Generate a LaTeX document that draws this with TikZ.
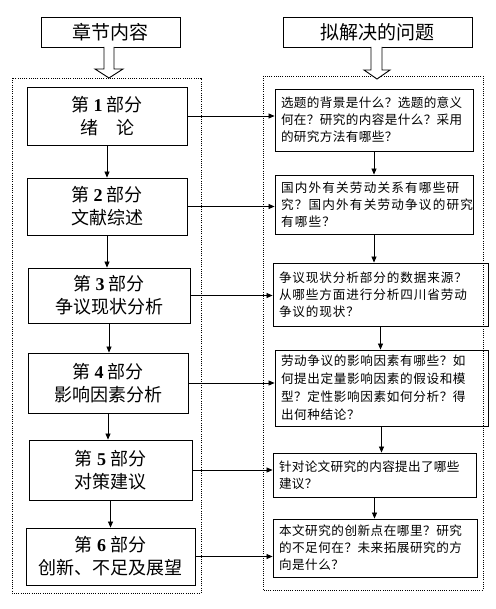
\documentclass[tikz,border=0pt]{standalone}
\usepackage{fontspec}
\newfontfamily\cjk{Noto Sans CJK SC}
\newfontfamily\numf{Liberation Serif}
\usetikzlibrary{arrows.meta}
\tikzset{
  lbox/.style={draw, line width=0.9pt, inner sep=0pt, align=center,
    font=\cjk\fontsize{18}{23}\selectfont},
  rbox/.style={draw, line width=0.9pt, inner sep=0pt, align=left,
    font=\cjk\fontsize{12.6}{17}\selectfont},
  hbox/.style={draw, line width=0.9pt, inner sep=0pt, align=center,
    font=\cjk\fontsize{19}{23}\selectfont},
  dotbox/.style={line width=0.9pt, dash pattern=on 1pt off 1.2pt},
  conn/.style={line width=0.7pt, -{Triangle[length=6pt,width=5pt]}},
  hollow/.style={line width=0.9pt, fill=white}
}
\newcommand\dn[1]{{\numf\bfseries #1}}
\newcommand\ls[1]{\addfontfeatures{LetterSpace=#1}}
\begin{document}
\begin{tikzpicture}[x=1pt,y=-1pt]
\useasboundingbox (0,0) rectangle (495,609);
% dotted frames
\draw[dotbox] (12,78) rectangle (201,593);
\draw[dotbox] (263,76) rectangle (483,590);
% headers
\node[hbox, minimum width=139pt, minimum height=30pt] (h1) at (110.5,32) {章节内容};
\node[hbox, minimum width=189pt, minimum height=30pt] (h2) at (377.5,32) {拟解决的问题};
% hollow arrows
\draw[hollow] (104,47) -- (104,69) -- (95,69) -- (109,78) -- (123,69) -- (114,69) -- (114,47);
\draw[hollow] (371,47) -- (371,70) -- (364,70) -- (377,79) -- (390,70) -- (382,70) -- (382,47);
% left boxes
\node[lbox, minimum width=160pt, minimum height=58pt] (l1) at (107,116) {第 \dn{1} 部分\\绪\hspace{1em}论};
\node[lbox, minimum width=160pt, minimum height=57pt] (l2) at (107,206.5) {第 \dn{2} 部分\\文献综述};
\node[lbox, minimum width=162pt, minimum height=55pt] (l3) at (109,295.5) {第 \dn{3} 部分\\争议现状分析};
\node[lbox, minimum width=160pt, minimum height=60pt] (l4) at (108,383) {第 \dn{4} 部分\\影响因素分析};
\node[lbox, minimum width=163pt, minimum height=60pt] (l5) at (110.5,470) {第 \dn{5} 部分\\对策建议};
\node[lbox, minimum width=169pt, minimum height=57pt] (l6) at (110.5,556.5) {第 \dn{6} 部分\\创新、不足及展望};
% right boxes
\node[rbox, minimum width=198pt, minimum height=62pt, text width=186pt] (r1) at (374,120)
  {\ls{3}选题的背景是什么？选题的意义\\何在？研究的内容是什么？采用\\的研究方法有哪些？};
\node[rbox, minimum width=198pt, minimum height=59pt, text width=186pt] (r2) at (374,204.5)
  {\ls{9.5}国内外有关劳动关系有哪些研\\究？国内外有关劳动争议的研究\\有哪些？};
\node[rbox, minimum width=215pt, minimum height=63pt, text width=203pt] (r3) at (380.5,294.5)
  {\ls{7}争议现状分析部分的数据来源？\\从哪些方面进行分析四川省劳动\\争议的现状？};
\node[rbox, minimum width=213pt, minimum height=76pt, text width=201pt, font=\cjk\fontsize{12.6}{18}\selectfont] (r4) at (381.5,388)
  {\ls{5}劳动争议的影响因素有哪些？如\\何提出定量影响因素的假设和模\\型？定性影响因素如何分析？得\\出何种结论？};
\node[rbox, minimum width=203pt, minimum height=44pt, text width=191pt] (r5) at (374.5,475)
  {\ls{2.5}针对论文研究的内容提出了哪些\\建议？};
\node[rbox, minimum width=204pt, minimum height=58pt, text width=192pt] (r6) at (375,548)
  {\ls{4}本文研究的创新点在哪里？研究\\的不足何在？未来拓展研究的方\\向是什么？};
% left vertical arrows
\foreach \a/\b in {l1/l2,l2/l3,l3/l4,l4/l5,l5/l6}
  \draw[conn] (\a.south) -- (\a.south |- \b.north);
% right vertical arrows
\foreach \a/\b in {r1/r2,r2/r3,r3/r4,r4/r5,r5/r6}
  \draw[conn] (\a.south) -- (\a.south |- \b.north);
% horizontal connectors
\foreach \i in {1,...,6}
  \draw[conn] (l\i.east) -- (l\i.east -| r\i.west);
\end{tikzpicture}
\end{document}
